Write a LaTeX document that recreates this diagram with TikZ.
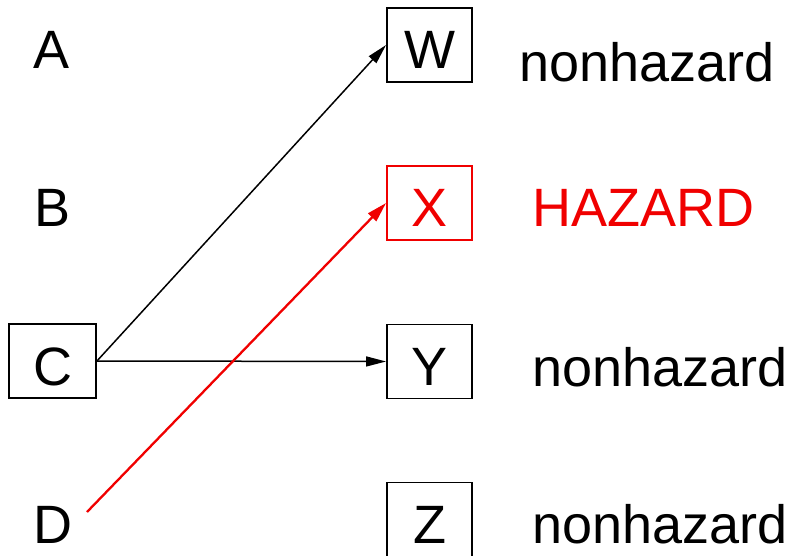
\documentclass[tikz,border=0pt]{standalone}
\usepackage{fontspec}
\setmainfont{Liberation Sans}
\usetikzlibrary{arrows.meta}
\definecolor{hz}{RGB}{240,0,0}
\begin{document}
\begin{tikzpicture}[x=1pt,y=1pt,
  every node/.style={font=\fontsize{54}{60}\selectfont},
  lbl/.style={anchor=base, inner sep=0pt},
  box/.style={draw, line width=1.9pt, minimum width=85pt, minimum height=74pt, inner sep=0pt, text height=48pt, text depth=0pt},
  conn/.style={line width=1.5pt, -{Triangle[length=20pt,width=10pt]}},
  redconn/.style={conn, draw=hz, line width=2.3pt, -{Triangle[length=20pt,width=11pt]}, fill=hz}]
\useasboundingbox (0,-556) rectangle (788,0);
\node[lbl] (A) at (52,-69) {A};
\node[lbl] (B) at (53,-227) {B};
\node[box, minimum width=87pt] (C) at (52.5,-361) {C};
\node[lbl] (D) at (53,-543) {D};
\coordinate (Dstart) at (87,-512);
\node[box] (W) at (429.5,-45) {W};
\node[box, draw=hz, text=hz] (X) at (429.5,-203) {X};
\node[box] (Y) at (429.5,-361.5) {Y};
\node[box] (Z) at (429.5,-519.5) {Z};
\node[lbl, anchor=base west] (lw) at (519,-82) {nonhazard};
\node[lbl, anchor=base west, text=hz] (lx) at (532,-227) {HAZARD};
\node[lbl, anchor=base west] (ly) at (532,-387) {nonhazard};
\node[lbl, anchor=base west] (lz) at (532,-543) {nonhazard};
\draw[conn] (C.east) -- (W.west);
\draw[conn] (C.east) -- (Y.west);
\draw[redconn] (Dstart) -- (X.west);
\end{tikzpicture}
\end{document}
